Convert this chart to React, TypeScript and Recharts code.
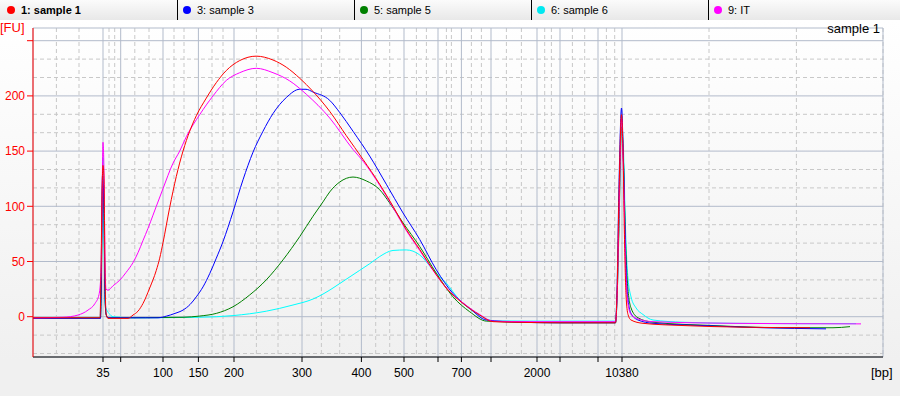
import { LineChart, Line, XAxis, YAxis, CartesianGrid } from "recharts";

const FONT = '"Liberation Sans", Arial, sans-serif';

// x axis is migration time (s); ladder peaks give the bp labels
const ladderTimes = [42.0, 43.77, 48.0, 51.54, 55.1, 61.9, 67.84, 72.1, 75.5, 77.84, 80.8, 85.4, 87.7, 91.5, 93.9];
const ladderLabels = ["35", "", "100", "150", "200", "300", "400", "500", "", "700", "", "2000", "", "", "10380"];
const minorTimes = [
    37.34, 39.6, 42.6, 43.17, 45.18, 46.6, 49.1, 50.1, 52.9, 54.0, 57.34, 59.5, 63.84, 65.67, 69.27, 70.67,
    73.34, 74.34, 76.34, 76.84, 78.84, 79.84, 82.34, 83.84, 86.17, 86.84, 88.94, 90.17, 92.34, 93.17, 102.6,
    111.34, 120,
];

const yTicks = [0, 50, 100, 150, 200, 250];
const yTickLabels = ["0", "50", "100", "150", "200", ""];
const minorY = [-33.33, -16.67, 16.67, 33.33, 66.67, 83.33, 116.67, 133.33, 166.67, 183.33, 216.67, 233.33];

// [time, FU]
const sample1: [number, number][] = [
    [35, -1], [41.7, -1], [41.8, 40], [41.9, 110], [42.0, 137], [42.1, 125], [42.2, 40], [42.3, 3], [42.5, -1.5],
    [44.5, -1.5], [45.0, 1.5], [45.5, 5], [46.0, 12], [46.67, 26], [47.33, 42], [47.67, 53], [48.0, 67], [48.67, 99],
    [49.33, 127], [50.0, 150], [50.67, 168], [51.33, 182], [52.33, 198], [53.33, 212], [54.33, 223], [55.67, 232],
    [57.33, 236], [59.0, 232.5], [60.33, 226], [61.67, 216], [63.0, 204], [64.67, 186], [66.33, 164], [68.0, 142.5],
    [69.67, 120], [71.0, 100], [72.33, 79], [73.67, 61], [75.0, 42.5], [76.33, 26], [78.0, 12], [79.67, 1.5],
    [81.0, -4.5], [83, -5], [88, -5.5], [93.25, -5.5], [93.4, 20], [93.6, 110], [93.85, 183], [94.0, 150],
    [94.15, 70], [94.3, 20], [94.5, 2], [94.8, -3], [96, -6], [100, -8], [106, -9.5], [112.7, -10],
];

const sample3: [number, number][] = [
    [35, -1.5], [41.75, -1.5], [41.85, 50], [41.95, 128], [42.1, 100], [42.2, 20], [42.3, 3], [42.5, -1],
    [47.5, -1], [48.33, 0.5], [49.2, 3], [50.0, 6], [50.7, 11], [51.33, 18], [52.0, 27], [52.67, 39], [53.33, 53],
    [54.0, 68], [54.5, 81], [55.0, 95], [56.0, 124], [57.0, 149], [58.0, 168], [59.0, 184], [60.33, 198.5],
    [61.67, 206], [62.3, 206], [63.0, 203.5], [64.67, 196], [65.67, 185], [67.0, 168], [68.67, 145.5], [70.33, 120],
    [72.0, 94], [73.67, 70], [75.33, 42.5], [77.0, 21], [78.67, 7.6], [80.33, -3], [83.67, -5], [87, -5.5],
    [93.25, -5.5], [93.4, 25], [93.6, 120], [93.85, 189], [94.05, 140], [94.25, 60], [94.45, 20], [94.8, 3],
    [95.5, -3], [97, -6], [102, -8], [108, -10], [114.3, -11],
];

const sample5: [number, number][] = [
    [35, -1], [41.75, -1], [41.85, 40], [41.95, 120], [42.1, 90], [42.2, 20], [42.3, 2], [42.5, -1], [50.0, -0.5],
    [51.67, 0.6], [53.33, 3], [55.0, 9], [56.67, 19.7], [58.33, 33.4], [60.0, 51.5], [61.67, 72.5], [63.0, 91],
    [64.0, 104], [64.67, 113], [65.67, 122], [67.0, 126.5], [68.33, 123], [69.67, 115], [70.67, 103], [72.0, 85],
    [73.67, 63.6], [75.33, 39.4], [77.0, 18], [78.67, 4.5], [80.33, -4], [84, -5], [88, -5.5], [93.25, -5.5],
    [93.4, 15], [93.6, 80], [93.85, 172], [94.05, 140], [94.25, 70], [94.45, 30], [94.8, 8], [95.5, -1], [97, -5],
    [103, -8], [110, -10], [115, -10], [116.7, -9],
];

const sample6: [number, number][] = [
    [35, -1.5], [41.7, -1.5], [41.8, 30], [41.9, 100], [42.0, 144], [42.1, 70], [42.2, 15], [42.3, 8], [42.6, 3],
    [43.0, 0], [45, -1], [51.67, -0.5], [55.0, 1], [58.33, 5], [61.0, 10.6], [63.0, 16], [64.0, 20.5], [65.0, 26],
    [66.0, 32], [67.0, 38], [67.67, 42], [68.67, 48], [69.67, 54.5], [71.0, 60], [72.33, 60.5], [73.67, 56],
    [75.0, 42.5], [76.33, 30.4], [77.67, 15], [79.33, 3], [81.0, -3.6], [85, -4], [93.25, -4], [93.4, 15],
    [93.6, 90], [93.85, 176], [94.05, 150], [94.25, 80], [94.45, 40], [94.8, 18], [95.3, 8], [96, 2], [97, -3],
    [100, -5], [105, -6], [112, -6.3], [117.3, -6.3],
];

const sampleIT: [number, number][] = [
    [35, -1], [38, -0.5], [39.5, 1.5], [40.5, 6], [41.2, 12], [41.6, 20], [41.8, 40], [41.9, 100], [42.0, 158],
    [42.1, 130], [42.2, 50], [42.3, 25], [42.5, 24], [43.0, 28], [43.67, 33], [44.3, 40], [45.0, 49], [45.5, 58],
    [46.0, 69], [46.5, 80], [47.0, 92], [47.33, 100], [48.0, 116], [49.0, 139], [49.67, 150], [50.33, 163],
    [51.67, 183], [53.0, 200], [54.33, 214], [55.67, 221], [57.33, 225], [59.0, 221], [60.67, 213.6],
    [62.33, 201.5], [64.67, 180], [67.0, 151.5], [68.0, 141], [69.67, 119], [71.0, 99], [72.33, 78], [73.67, 60],
    [75.0, 42], [76.33, 26], [78.0, 12.5], [79.67, 2], [81.0, -4], [85, -4.5], [93.25, -4.5], [93.4, 15],
    [93.6, 90], [93.85, 179], [94.05, 130], [94.25, 50], [94.45, 15], [94.8, 2], [95.5, -2], [97, -4.5],
    [105, -6], [110, -6.3], [117.8, -6.5],
];

const legendItems = [
    { name: "1: sample 1", color: "#ff0000", bold: true },
    { name: "3: sample 3", color: "#0000ff", bold: false },
    { name: "5: sample 5", color: "#008000", bold: false },
    { name: "6: sample 6", color: "#00e8f0", bold: false },
    { name: "9: IT", color: "#ff00ff", bold: false },
];

// drawing order: red last so it sits on top
const series = [
    { key: "s6", color: "#00ffff", data: sample6 },
    { key: "s5", color: "#008000", data: sample5 },
    { key: "s3", color: "#0000ff", data: sample3 },
    { key: "it", color: "#ff00ff", data: sampleIT },
    { key: "s1", color: "#ff0000", data: sample1 },
];

const toPoints = (arr: [number, number][]) => arr.map(([t, fu]) => ({ t, fu }));

function LegendBar() {
    return (
        <div
            style={{
                position: "absolute",
                left: 0,
                top: 0,
                width: 900,
                height: 20,
                display: "flex",
                background: "linear-gradient(#fbfbfb, #e8e8e8)",
                fontFamily: FONT,
                fontSize: 11,
                color: "#000",
            }}
        >
            {legendItems.map((item, i) => (
                <div
                    key={item.name}
                    style={{
                        width: 177,
                        height: 20,
                        boxSizing: "border-box",
                        borderLeft: i === 0 ? "none" : "1px solid #000",
                        paddingLeft: i === 0 ? 7 : 5,
                        display: "flex",
                        alignItems: "center",
                    }}
                >
                    <span
                        style={{
                            width: 8,
                            height: 8,
                            borderRadius: 4,
                            background: item.color,
                            display: "inline-block",
                            marginRight: 6,
                        }}
                    />
                    <span style={{ fontWeight: item.bold ? "bold" : "normal" }}>{item.name}</span>
                </div>
            ))}
        </div>
    );
}

export default function App() {
    return (
        <div
            style={{
                position: "absolute",
                left: 0,
                top: 0,
                width: 900,
                height: 396,
                background: "linear-gradient(#ffffff 20px, #f0f0f0 360px)",
                overflow: "hidden",
            }}
        >
            <LineChart
                width={900}
                height={396}
                margin={{ top: 28, right: 17, bottom: 0, left: 0 }}
            >
                <CartesianGrid
                    stroke="#c8c8c8"
                    strokeDasharray="4 3"
                    horizontalValues={minorY}
                    verticalValues={minorTimes}
                />
                <CartesianGrid stroke="#b2bbcb" />
                <XAxis
                    type="number"
                    dataKey="t"
                    domain={[35, 120]}
                    ticks={ladderTimes}
                    interval={0}
                    allowDataOverflow
                    height={39}
                    stroke="#000"
                    tickSize={5}
                    tickMargin={6}
                    tick={{ fill: "#000", fontSize: 12, fontFamily: FONT }}
                    tickFormatter={(v: number) => ladderLabels[ladderTimes.indexOf(v)] ?? ""}
                />
                <YAxis
                    type="number"
                    domain={[-36.5, 261.5]}
                    ticks={yTicks}
                    interval={0}
                    allowDataOverflow
                    width={33}
                    stroke="#ff0000"
                    tickSize={6}
                    tickMargin={2}
                    tick={{ fill: "#ff0000", fontSize: 12, fontFamily: FONT }}
                    tickFormatter={(v: number) => yTickLabels[yTicks.indexOf(v)] ?? ""}
                />
                {series.map((s) => (
                    <Line
                        key={s.key}
                        data={toPoints(s.data)}
                        dataKey="fu"
                        type="monotone"
                        stroke={s.color}
                        strokeWidth={1}
                        dot={false}
                        activeDot={false}
                        isAnimationActive={false}
                    />
                ))}
            </LineChart>
            <LegendBar />
            <div style={{ position: "absolute", left: 0, top: 20, fontFamily: FONT, fontSize: 13, color: "#ff0000" }}>
                [FU]
            </div>
            <div style={{ position: "absolute", right: 20, top: 21, fontFamily: FONT, fontSize: 13, color: "#000" }}>
                sample 1
            </div>
            <div style={{ position: "absolute", left: 871, top: 365, fontFamily: FONT, fontSize: 13, color: "#000" }}>
                [bp]
            </div>
        </div>
    );
}
